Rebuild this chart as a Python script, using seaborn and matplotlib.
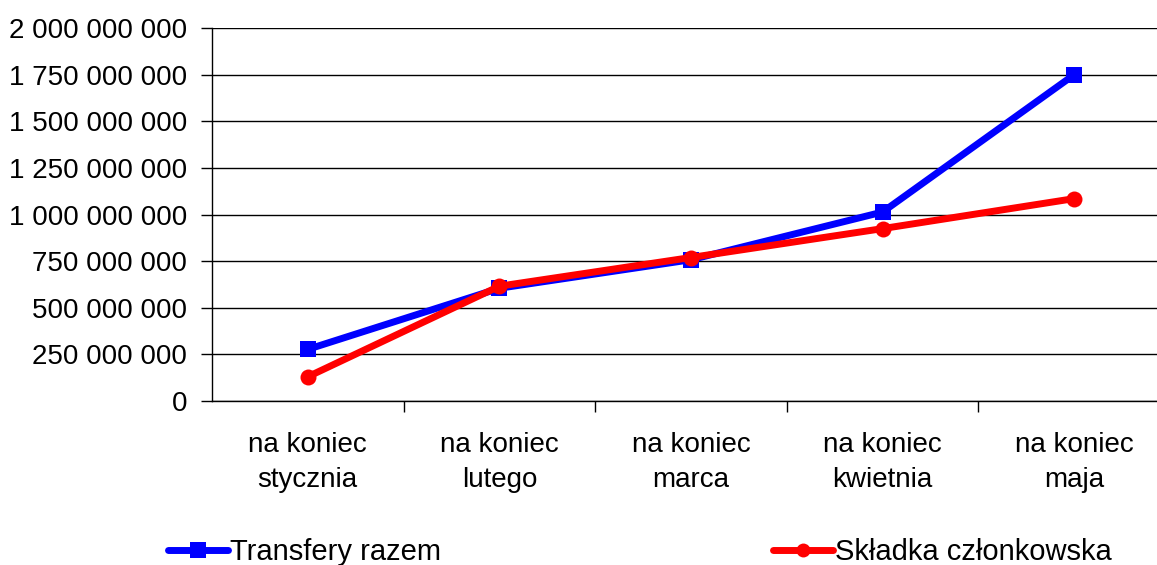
import matplotlib
matplotlib.use("Agg")
import matplotlib.pyplot as plt
import seaborn as sns
import pandas as pd
from matplotlib.ticker import FuncFormatter, FixedLocator
from matplotlib.lines import Line2D

categories = ["na koniec\nstycznia", "na koniec\nlutego", "na koniec\nmarca",
              "na koniec\nkwietnia", "na koniec\nmaja"]
transfery = [277e6, 605e6, 758e6, 1014e6, 1751e6]
skladka = [130e6, 616e6, 770e6, 925e6, 1086e6]
series_names = ["Transfery razem", "Składka członkowska"]

df = pd.DataFrame({
    "kat": categories * 2,
    "val": transfery + skladka,
    "ser": [series_names[0]] * 5 + [series_names[1]] * 5,
})

sns.set_theme(style="white")
plt.rcParams["font.family"] = ["Liberation Sans", "DejaVu Sans"]
plt.rcParams["text.color"] = "black"
plt.rcParams["xtick.color"] = "black"
plt.rcParams["ytick.color"] = "black"

fig = plt.figure(figsize=(11.57, 5.65), dpi=100)
ax = fig.add_axes([0.1832, 0.2903, 0.828, 0.6596])

LW = 5.0
sns.lineplot(data=df, x="kat", y="val", hue="ser", style="ser",
             palette={series_names[0]: "#0000FF", series_names[1]: "#FF0000"},
             markers={series_names[0]: "s", series_names[1]: "o"},
             dashes=False, sort=False, linewidth=LW, markersize=11.5,
             markeredgewidth=0, ax=ax, legend=False)

ax.set_xlim(-0.5, 4.5)
ax.set_ylim(0, 2e9)
ax.yaxis.set_major_locator(FixedLocator([i * 250e6 for i in range(9)]))
ax.yaxis.set_major_formatter(FuncFormatter(lambda v, p: f"{int(round(v)):,}".replace(",", " ")))
ax.grid(axis="y", color="#000000", linewidth=1.0)
ax.set_axisbelow(True)
for s in ["top", "right"]:
    ax.spines[s].set_visible(False)
for s in ["left", "bottom"]:
    ax.spines[s].set_color("black")
    ax.spines[s].set_linewidth(1.0)
ax.set_xlabel("")
ax.set_ylabel("")
ax.tick_params(axis="y", which="major", length=8, width=1, color="black",
               labelsize=20, pad=10, left=True, labelcolor="black")
ax.tick_params(axis="x", which="major", length=0, labelsize=20, pad=22, labelcolor="black")
ax.set_xticks(range(len(categories)))
ax.set_xticklabels(categories, linespacing=1.45)
ax.set_xticks([0.5, 1.5, 2.5, 3.5], minor=True)
ax.tick_params(axis="x", which="minor", length=8, width=1, color="black", bottom=True)

handles = [Line2D([], [], color="#0000FF", marker="s", linewidth=LW, markersize=11, markeredgewidth=0),
           Line2D([], [], color="#FF0000", marker="o", linewidth=LW, markersize=10, markeredgewidth=0)]
fig.legend(handles, series_names, loc="center left", bbox_to_anchor=(168 / 1157, 1 - 552 / 565),
           ncol=2, frameon=False, fontsize=21, handlelength=2.05, handletextpad=0.07,
           columnspacing=11.4, borderpad=0, borderaxespad=0)

fig.savefig("out.png", dpi=100)
